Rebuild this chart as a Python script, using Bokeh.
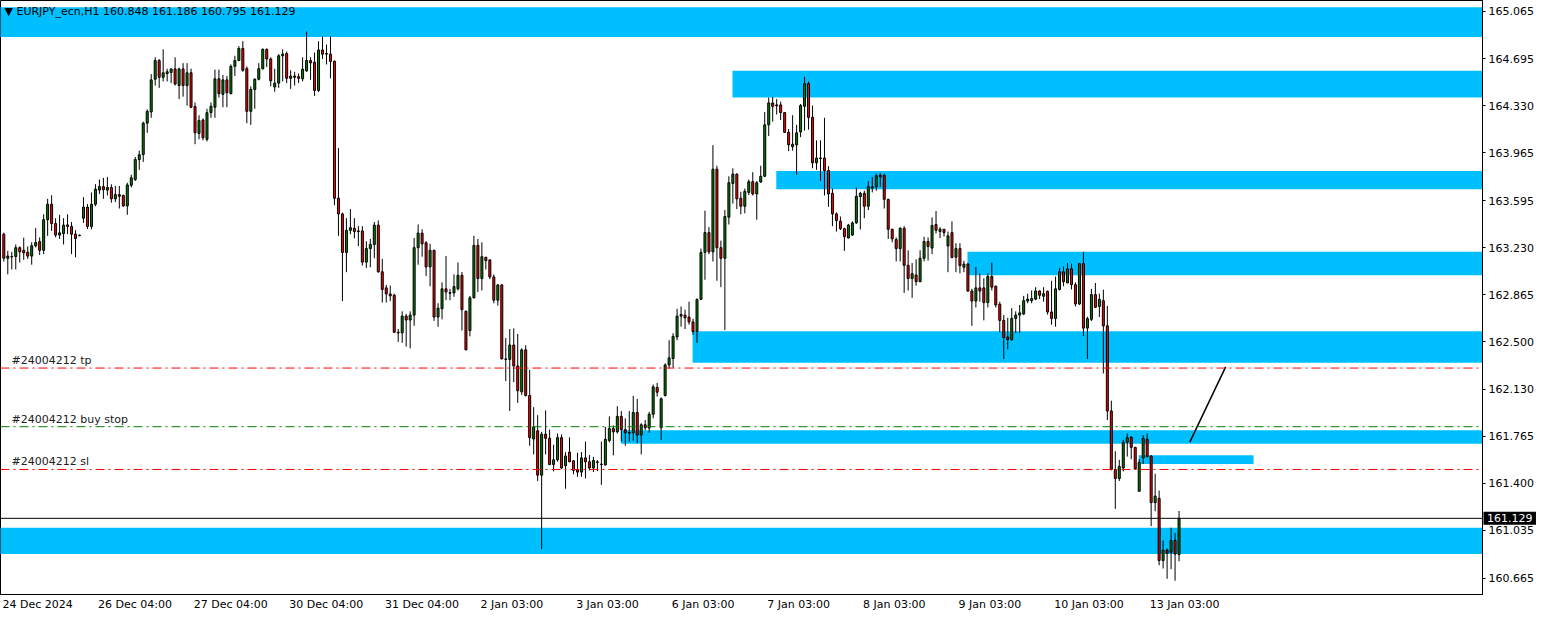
from bokeh.plotting import figure
from bokeh.models import Range1d, FixedTicker, PrintfTickFormatter, Label, ColumnDataSource, Span
from bokeh.embed import file_html
from bokeh.resources import INLINE

# ---------------- data ----------------
opens = [163.334,163.147,163.160,163.160,163.229,163.209,163.194,163.164,163.244,163.276,
163.209,163.446,163.566,163.416,163.327,163.339,163.406,163.394,163.334,163.322,
163.458,163.544,163.394,163.566,163.676,163.703,163.676,163.696,163.608,163.641,
163.634,163.553,163.713,163.758,163.913,163.952,164.195,164.282,164.536,164.681,
164.551,164.580,164.588,164.616,164.487,164.616,164.487,164.586,164.324,164.115,
164.220,164.070,164.277,164.319,164.539,164.419,164.531,164.424,164.636,164.681,
164.775,164.618,164.287,164.457,164.536,164.618,164.768,164.693,164.476,164.506,
164.718,164.736,164.543,164.561,164.556,164.539,164.601,164.681,164.668,164.449,
164.763,164.736,164.731,164.676,163.613,163.491,163.192,163.364,163.379,163.359,
163.359,163.117,163.222,163.254,163.404,163.042,162.917,162.870,162.860,162.573,
162.568,162.698,162.668,162.706,163.229,163.342,163.267,163.080,163.209,162.691,
162.755,162.910,162.880,162.878,162.910,163.015,162.736,162.586,162.840,163.247,
162.990,163.154,163.134,163.002,162.822,162.940,162.366,162.362,162.474,162.311,
162.111,162.436,162.082,161.745,161.808,161.464,161.782,161.750,161.546,161.583,
161.755,161.538,161.643,161.575,161.505,161.488,161.598,161.568,161.520,161.568,
161.550,161.543,161.733,161.825,161.800,161.920,161.817,161.795,161.793,161.950,
161.775,161.855,161.830,161.937,162.145,161.832,162.082,162.319,162.369,162.536,
162.698,162.706,162.691,162.653,162.578,162.828,163.192,163.346,163.197,163.838,
163.229,163.147,163.466,163.728,163.800,163.613,163.551,163.658,163.741,163.646,
163.738,163.783,164.182,164.352,164.337,164.337,164.277,164.124,164.012,164.027,
164.127,164.326,164.502,164.240,163.888,163.925,163.925,163.828,163.651,163.491,
163.434,163.376,163.304,163.327,163.421,163.626,163.651,163.551,163.691,163.701,
163.791,163.791,163.604,163.372,163.292,163.222,163.379,163.092,162.990,163.017,
162.965,163.147,163.277,163.226,163.409,163.354,163.372,163.242,163.346,163.155,
163.222,163.077,163.102,162.893,162.815,162.917,162.917,162.803,163.005,162.930,
162.790,162.665,162.536,162.516,162.680,162.706,162.715,162.815,162.818,162.830,
162.893,162.852,162.890,162.730,162.680,162.905,163.042,162.955,163.065,162.942,
162.792,163.105,162.605,162.673,162.865,162.773,162.818,162.623,161.962,161.508,
161.438,161.520,161.720,161.757,161.680,161.339,161.597,161.742,161.613,161.251,
161.284,160.802,160.882,160.865,160.957,160.848]

highs = [163.346,163.204,163.197,163.254,163.239,163.307,163.239,163.271,163.381,163.309,
163.488,163.608,163.636,163.458,163.484,163.458,163.488,163.428,163.364,163.330,
163.621,163.568,163.658,163.722,163.758,163.771,163.778,163.721,163.708,163.708,
163.641,163.733,163.795,163.933,163.982,164.207,164.302,164.576,164.706,164.693,
164.768,164.618,164.618,164.706,164.626,164.661,164.661,164.618,164.356,164.257,
164.232,164.307,164.356,164.611,164.611,164.569,164.561,164.651,164.718,164.793,
164.831,164.636,164.481,164.543,164.661,164.775,164.775,164.706,164.618,164.731,
164.768,164.751,164.606,164.594,164.581,164.706,164.906,164.706,164.743,164.831,
164.868,164.805,164.868,164.681,164.002,163.501,163.458,163.529,163.458,163.396,
163.396,163.279,163.297,163.428,163.441,163.142,162.940,162.935,162.873,162.598,
162.735,162.715,162.735,163.304,163.409,163.372,163.279,163.259,163.212,162.798,
162.960,163.164,162.910,163.022,163.114,163.040,162.740,162.855,163.321,163.297,
163.271,163.159,163.139,163.022,162.947,162.945,162.528,162.598,162.603,162.560,
162.448,162.471,162.281,161.992,161.930,161.800,161.967,161.817,161.700,161.787,
161.780,161.643,161.757,161.580,161.638,161.643,161.725,161.621,161.606,161.580,
161.725,161.838,161.920,161.850,161.999,161.962,161.905,161.962,162.079,162.055,
161.867,161.892,161.955,162.167,162.179,162.067,162.331,162.511,162.566,162.755,
162.773,162.748,162.810,162.678,162.835,163.222,163.516,163.389,164.025,163.865,
163.284,163.521,163.783,163.845,163.805,163.663,163.688,163.758,163.815,163.746,
163.865,164.282,164.394,164.399,164.382,164.362,164.282,164.150,164.257,164.182,
164.344,164.556,164.519,164.332,164.062,164.062,164.237,163.862,163.688,163.503,
163.471,163.384,163.414,163.434,163.696,163.663,163.671,163.746,163.778,163.803,
163.808,163.803,163.608,163.376,163.309,163.389,163.396,163.209,163.110,163.139,
163.209,163.314,163.309,163.464,163.514,163.389,163.374,163.354,163.434,163.264,
163.264,163.127,163.110,162.910,163.080,163.030,162.992,163.030,163.114,162.935,
162.810,162.706,162.685,162.760,162.735,162.785,162.855,162.872,162.897,162.923,
162.897,162.923,162.897,162.972,163.005,163.072,163.084,163.110,163.105,162.960,
163.110,163.197,162.693,162.910,162.955,162.872,162.903,162.777,162.042,161.650,
161.583,161.738,161.787,161.767,161.683,161.588,161.775,161.787,161.618,161.475,
161.344,160.957,160.895,161.056,161.015,161.186]

lows = [163.122,163.022,163.060,163.060,163.114,163.134,163.142,163.097,163.231,163.172,
163.179,163.321,163.359,163.309,163.297,163.254,163.334,163.179,163.155,163.318,
163.421,163.374,163.371,163.551,163.646,163.608,163.634,163.578,163.583,163.533,
163.546,163.484,163.696,163.746,163.833,163.895,164.120,164.237,164.487,164.469,
164.519,164.519,164.506,164.487,164.382,164.401,164.332,164.312,164.032,164.070,
164.062,164.053,164.237,164.237,164.394,164.319,164.319,164.419,164.561,164.676,
164.594,164.195,164.182,164.307,164.527,164.611,164.631,164.481,164.439,164.469,
164.519,164.506,164.461,164.487,164.506,164.519,164.594,164.531,164.407,164.436,
164.693,164.651,164.543,163.559,163.321,162.815,163.039,163.334,163.301,163.241,
163.090,163.072,163.077,163.147,163.035,162.803,162.803,162.815,162.566,162.498,
162.491,162.461,162.448,162.623,163.097,163.159,163.010,162.930,162.661,162.616,
162.673,162.822,162.822,162.848,162.897,162.586,162.434,162.541,162.835,162.885,
162.897,163.060,162.985,162.798,162.780,162.363,162.194,161.962,162.186,162.025,
162.087,162.074,161.692,161.625,161.419,160.890,161.625,161.543,161.493,161.568,
161.513,161.359,161.565,161.471,161.451,161.451,161.438,161.501,161.488,161.495,
161.389,161.540,161.718,161.618,161.787,161.725,161.692,161.725,161.730,161.713,
161.625,161.812,161.793,161.905,162.074,161.738,162.074,162.291,162.298,162.511,
162.616,162.598,162.631,162.553,162.491,162.822,162.980,163.179,163.122,162.972,
162.923,162.590,163.409,163.571,163.529,163.488,163.496,163.638,163.634,163.446,
163.733,163.778,164.095,164.207,164.262,164.220,164.120,163.978,163.982,163.795,
164.087,164.137,164.145,163.845,163.833,163.746,163.634,163.546,163.396,163.354,
163.366,163.204,163.301,163.321,163.414,163.371,163.458,163.521,163.658,163.671,
163.701,163.533,163.297,163.271,163.122,163.122,162.878,162.897,162.840,162.935,
162.962,163.122,163.129,163.179,163.339,163.304,163.316,163.039,163.147,163.039,
163.030,163.039,162.885,162.623,162.765,162.810,162.665,162.765,162.897,162.765,
162.573,162.366,162.441,162.506,162.566,162.566,162.706,162.798,162.798,162.822,
162.830,162.810,162.710,162.631,162.616,162.897,162.930,162.955,162.905,162.773,
162.785,162.543,162.366,162.660,162.760,162.691,162.253,161.892,161.501,161.202,
161.419,161.493,161.608,161.588,161.508,161.339,161.550,161.601,161.069,161.184,
160.765,160.740,160.660,160.735,160.645,160.795]

closes = [163.147,163.164,163.158,163.229,163.197,163.189,163.164,163.244,163.269,163.209,
163.446,163.566,163.416,163.327,163.344,163.404,163.394,163.334,163.301,163.326,
163.544,163.394,163.566,163.683,163.703,163.679,163.696,163.608,163.641,163.628,
163.553,163.716,163.771,163.913,163.950,164.195,164.287,164.531,164.681,164.551,
164.586,164.594,164.616,164.499,164.616,164.487,164.586,164.319,164.120,164.216,
164.082,164.277,164.326,164.539,164.424,164.531,164.431,164.636,164.681,164.775,
164.606,164.287,164.457,164.536,164.618,164.768,164.693,164.524,164.506,164.718,
164.731,164.543,164.561,164.551,164.543,164.614,164.681,164.663,164.449,164.763,
164.731,164.731,164.674,163.613,163.491,163.192,163.364,163.384,163.354,163.354,
163.117,163.222,163.254,163.404,163.042,162.905,162.870,162.855,162.573,162.568,
162.698,162.668,162.706,163.229,163.342,163.259,163.080,163.209,162.691,162.760,
162.910,162.885,162.875,162.927,163.015,162.748,162.436,162.840,163.247,162.990,
163.159,163.129,163.002,162.822,162.940,162.366,162.362,162.474,162.311,162.119,
162.436,162.082,161.755,161.838,161.464,161.782,161.750,161.546,161.583,161.755,
161.520,161.613,161.568,161.501,161.488,161.598,161.568,161.520,161.578,161.563,
161.546,161.742,161.825,161.800,161.920,161.817,161.793,161.790,161.950,161.775,
161.855,161.832,161.937,162.149,162.107,162.057,162.319,162.374,162.541,162.698,
162.710,162.685,162.653,162.578,162.828,163.192,163.346,163.197,163.838,163.229,
163.147,163.471,163.733,163.800,163.608,163.551,163.666,163.741,163.646,163.733,
163.783,164.182,164.352,164.326,164.329,164.277,164.124,164.027,164.032,164.120,
164.332,164.502,164.240,163.888,163.925,163.920,163.828,163.646,163.491,163.439,
163.376,163.314,163.404,163.421,163.628,163.651,163.551,163.701,163.701,163.788,
163.778,163.604,163.372,163.297,163.222,163.379,163.092,162.990,163.027,162.965,
163.147,163.277,163.239,163.401,163.364,163.372,163.346,163.321,163.152,163.222,
163.090,163.102,162.893,162.815,162.917,162.893,162.803,163.005,162.923,162.785,
162.665,162.531,162.516,162.680,162.706,162.723,162.818,162.830,162.835,162.893,
162.860,162.872,162.730,162.680,162.910,163.042,162.965,163.065,162.942,162.792,
163.105,162.605,162.678,162.865,162.766,162.828,162.623,161.962,161.508,161.438,
161.531,161.718,161.755,161.680,161.513,161.563,161.750,161.608,161.251,161.301,
160.802,160.882,160.857,160.957,160.852,161.129]

# time-axis labels (bar index where each label starts)
time_labels = ["24 Dec 2024", "26 Dec 04:00", "27 Dec 04:00", "30 Dec 04:00", "31 Dec 04:00",
               "2 Jan 03:00", "3 Jan 03:00", "6 Jan 03:00", "7 Jan 03:00", "8 Jan 03:00",
               "9 Jan 03:00", "10 Jan 03:00", "13 Jan 03:00"]
time_label_bars = [0, 24, 48, 72, 96, 120, 144, 168, 192, 216, 240, 264, 288]

price_ticks = [165.065, 164.695, 164.330, 163.965, 163.595, 163.230, 162.865,
               162.500, 162.130, 161.765, 161.400, 161.035, 160.665]

# supply/demand zones: left bar, right bar, bottom price, top price
zone_left = [-5, 182.9, 193.9, 241.9, 172.9, 154.9, 284.9, -5]
zone_right = [400, 400, 400, 400, 400, 400, 313.7, 400]
zone_bottom = [164.863, 164.394, 163.683, 163.015, 162.336, 161.707, 161.550, 160.852]
zone_top = [165.095, 164.601, 163.825, 163.197, 162.581, 161.812, 161.618, 161.056]

tp_price = 162.295
buy_stop_price = 161.840
sl_price = 161.508
last_price = 161.129

trend_x = [297.7, 306.7]
trend_y = [161.720, 162.304]

# ---------------- figure ----------------
FONT = "DejaVu Sans"
n = len(opens)
idx = list(range(n))
up = [c >= o for o, c in zip(opens, closes)]
src = ColumnDataSource(dict(
    x=idx, o=opens, h=highs, l=lows, c=closes,
    top=[max(o, c) for o, c in zip(opens, closes)],
    bot=[min(o, c) for o, c in zip(opens, closes)],
    col=["#008000" if u else "#ff0000" for u in up],
))

p = figure(width=1536, height=626, output_backend="svg", toolbar_location=None,
           x_range=Range1d(-0.83, 371.17), y_range=Range1d(160.538, 165.147),
           y_axis_location="right", min_border_left=0, min_border_top=0,
           min_border_bottom=0, min_border_right=0)
p.background_fill_color = "white"
p.border_fill_color = "white"
p.outline_line_color = "black"
p.outline_line_width = 1
p.grid.visible = False

# zones
p.quad(left=zone_left, right=zone_right, bottom=zone_bottom, top=zone_top,
       fill_color="#00bfff", line_color=None)

# order lines
p.add_layout(Span(location=tp_price, dimension="width", line_color="#ff0000",
                  line_width=1, line_dash="9 4 2 4"))
p.add_layout(Span(location=buy_stop_price, dimension="width", line_color="#008000",
                  line_width=1, line_dash="9 4 2 4"))
p.add_layout(Span(location=sl_price, dimension="width", line_color="#ff0000",
                  line_width=1, line_dash="9 4 2 4"))
p.add_layout(Span(location=last_price, dimension="width", line_color="black",
                  line_width=1))

# trend line
p.line(trend_x, trend_y, line_color="black", line_width=1.5)

# candles
p.segment(x0="x", y0="h", x1="x", y1="l", source=src, line_color="black", line_width=1)
p.vbar(x="x", width=0.5, top="top", bottom="bot", source=src,
       fill_color="col", line_color="black", line_width=1)

# order labels
for txt, pr in [("#24004212 tp", tp_price), ("#24004212 buy stop", buy_stop_price),
                ("#24004212 sl", sl_price)]:
    p.add_layout(Label(x=-0.83, y=pr, x_offset=11, y_offset=1, text=txt,
                       text_font=FONT, text_font_size="11px", text_color="#202020",
                       text_baseline="bottom"))

# header
p.add_layout(Label(x=-0.83, y=165.147, x_offset=4, y_offset=-4,
                   text="\u25bc EURJPY_ecn,H1  160.848 161.186 160.795 161.129",
                   text_font=FONT, text_font_size="11px", text_color="black",
                   text_baseline="top"))

# y axis
ax = p.yaxis[0]
ax.ticker = FixedTicker(ticks=price_ticks)
ax.formatter = PrintfTickFormatter(format="%.3f")
ax.major_label_text_font = FONT
ax.major_label_text_font_size = "11px"
ax.major_label_text_color = "black"
ax.major_tick_in = 0
ax.major_tick_out = 3
ax.minor_tick_out = 0
ax.minor_tick_in = 0
ax.major_label_standoff = 3
ax.axis_line_color = "black"

# x axis: labels left-aligned at their bar
char_w = {d: 7.0 for d in "0123456789"}
char_w.update({" ": 3.5, ":": 3.7, "D": 8.5, "e": 6.8, "c": 6.0, "J": 3.2, "a": 6.7, "n": 7.0})
centers = []
for lbl, b in zip(time_labels, time_label_bars):
    w = sum(char_w.get(ch, 7.0) for ch in lbl)
    centers.append(round(b - 0.3 + w / 8.0, 3))
xa = p.xaxis[0]
xa.ticker = FixedTicker(ticks=centers)
xa.major_label_overrides = {c: l for c, l in zip(centers, time_labels)}
xa.major_label_text_font = FONT
xa.major_label_text_font_size = "11px"
xa.major_label_text_color = "black"
xa.major_tick_in = 0
xa.major_tick_out = 0
xa.minor_tick_out = 0
xa.minor_tick_in = 0
xa.major_label_standoff = 3
xa.axis_line_color = "black"

# current price marker on the price scale (placed in a side panel so it is not clipped)
p.add_layout(Label(x=371.17, y=last_price, x_offset=1,
                   text="\u00a0161.129\u00a0",
                   text_font=FONT, text_font_size="11px", text_color="white",
                   background_fill_color="black", text_baseline="middle"), "below")

open("out.html", "w").write(file_html(p, INLINE))
